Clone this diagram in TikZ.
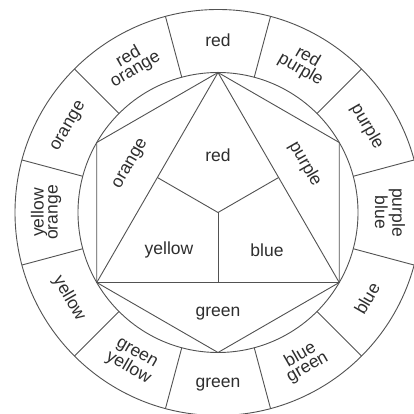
\documentclass[tikz,border=0pt]{standalone}
\usepackage{fontspec}
\setmainfont{Liberation Sans}
\begin{document}
\begin{tikzpicture}[x=1pt,y=1pt,
  edge/.style={draw=black!68, line width=0.9pt},
  lbl/.style={font=\fontsize{17.5}{14}\selectfont, text=black!82, align=center, inner sep=0pt}]
\useasboundingbox (-218,-201.5) rectangle (196,212.5);
\fill[white] (-218,-201.5) rectangle (196,212.5);
\coordinate (O) at (0,0);
% rings
\draw[edge] (O) circle (203);
\draw[edge] (O) circle (140);
\foreach \a in {15,45,...,345} \draw[edge] (\a:140) -- (\a:203);
% hexagon vertices
\coordinate (T) at (90:140);
\coordinate (UL) at (150:140);
\coordinate (LL) at (210:140);
\coordinate (B) at (270:140);
\coordinate (LR) at (330:140);
\coordinate (UR) at (30:140);
\coordinate (ML) at (150:70);
\coordinate (MR) at (30:70);
\coordinate (MB) at (270:70);
\draw[edge] (T) -- (UL) -- (LL) -- (B) -- (LR) -- (UR) -- cycle;
\draw[edge] (T) -- (LL) -- (LR) -- cycle;
\draw[edge] (O) -- (ML);
\draw[edge] (O) -- (MR);
\draw[edge] (O) -- (MB);
% ring labels
\node[lbl, rotate=0]   (r90)  at (90:172)  {red};
\node[lbl, rotate=30]  (r120) at (120:172) {red\\orange};
\node[lbl, rotate=60]  (r150) at (150:172) {orange};
\node[lbl, rotate=90]  (r180) at (180:172) {yellow\\orange};
\node[lbl, rotate=-60] (r210) at (210:172) {yellow};
\node[lbl, rotate=-30] (r240) at (240:172) {green\\yellow};
\node[lbl, rotate=0]   (r270) at (270:172) {green};
\node[lbl, rotate=30]  (r300) at (300:172) {blue\\green};
\node[lbl, rotate=60]  (r330) at (330:172) {blue};
\node[lbl, rotate=-90] (r0)   at (0:172)   {purple\\blue};
\node[lbl, rotate=-60] (r30)  at (30:172)  {purple};
\node[lbl, rotate=-30] (r60)  at (60:172)  {red\\purple};
% inner labels
\node[lbl] (ired) at (0,57.5) {red};
\node[lbl] (iyellow) at (-49,-37.5) {yellow};
\node[lbl] (iblue) at (49,-37.5) {blue};
\node[lbl] (igreen) at (0,-101.5) {green};
\node[lbl, rotate=60] (iorange) at (-87,48.5) {orange};
\node[lbl, rotate=-60] (ipurple) at (87,48.5) {purple};
\end{tikzpicture}
\end{document}
